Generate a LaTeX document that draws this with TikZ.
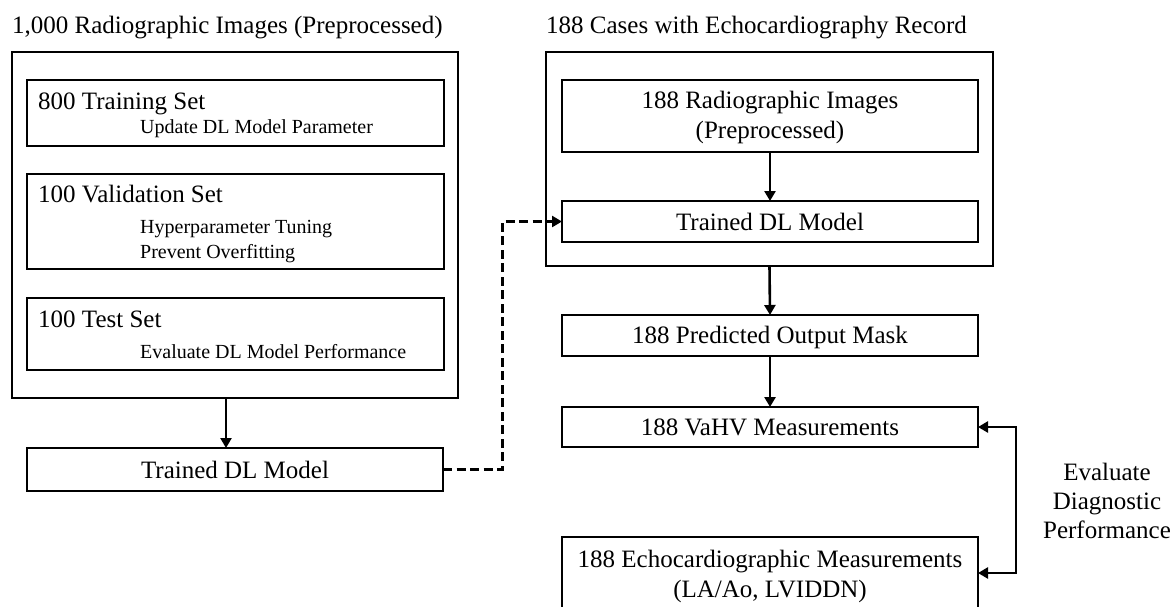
\documentclass[tikz,border=0pt]{standalone}
\usepackage{fontspec}
\setmainfont{Liberation Serif}
\usetikzlibrary{arrows.meta,calc}
\begin{document}
\begin{tikzpicture}[x=1pt,y=-1pt,
  box/.style={draw, line width=1.6pt, inner sep=0pt, outer sep=0pt, anchor=north west},
  big/.style={inner sep=0pt, font=\fontsize{25}{29}\selectfont},
  small/.style={inner sep=0pt, font=\fontsize{20}{24}\selectfont},
  arr/.style={line width=2.6pt, -{Triangle[length=10pt,width=11pt]}},
  dasharr/.style={line width=3pt, dash pattern=on 9pt off 4.5pt, -{Triangle[length=10pt,width=11pt]}},
  biarr/.style={line width=2.6pt, {Triangle[length=10pt,width=11pt]}-{Triangle[length=10pt,width=11pt]}},
]
\useasboundingbox (0,0) rectangle (1175,606);

% ---------- left column ----------
\node[big, anchor=base west] (titleL) at (12,33) {1,000 Radiographic Images (Preprocessed)};
\node[box, minimum width=446pt, minimum height=346pt] (outerL) at (12,52) {};

\node[box, minimum width=417pt, minimum height=66pt] (train) at (27,80) {};
\node[big, anchor=base west] (trainT) at (38,109) {800 Training Set};
\node[small, anchor=base west] (trainS) at (140,133) {Update DL Model Parameter};

\node[box, minimum width=417pt, minimum height=95pt] (valid) at (27,174) {};
\node[big, anchor=base west] (validT) at (38,202) {100 Validation Set};
\node[small, anchor=base west] (validS1) at (140,233) {Hyperparameter Tuning};
\node[small, anchor=base west] (validS2) at (140,258) {Prevent Overfitting};

\node[box, minimum width=417pt, minimum height=72pt] (test) at (27,298) {};
\node[big, anchor=base west] (testT) at (38,327) {100 Test Set};
\node[small, anchor=base west] (testS) at (140,358) {Evaluate DL Model Performance};

\node[box, minimum width=416pt, minimum height=43pt] (modelL) at (27,448) {};
\node[big, anchor=base] (modelLT) at (235,478) {Trained DL Model};

% ---------- right column ----------
\node[big, anchor=base west] (titleR) at (546,33) {188 Cases with Echocardiography Record};
\node[box, minimum width=447pt, minimum height=214pt] (outerR) at (546,52) {};

\node[box, minimum width=416pt, minimum height=72pt] (img) at (562,80) {};
\node[big, anchor=base] (imgT1) at (770,108) {188 Radiographic Images};
\node[big, anchor=base] (imgT2) at (770,138) {(Preprocessed)};

\node[box, minimum width=416pt, minimum height=41pt] (modelR) at (562,201) {};
\node[big, anchor=base] (modelRT) at (770,230) {Trained DL Model};

\node[box, minimum width=416pt, minimum height=41pt] (pred) at (562,315) {};
\node[big, anchor=base] (predT) at (770,343) {188 Predicted Output Mask};

\node[box, minimum width=416pt, minimum height=40pt] (vahv) at (562,407) {};
\node[big, anchor=base] (vahvT) at (770,435) {188 VaHV Measurements};

\node[box, minimum width=416pt, minimum height=80pt] (echo) at (562,537) {};
\node[big, anchor=base] (echoT1) at (770,567) {188 Echocardiographic Measurements};
\node[big, anchor=base] (echoT2) at (770,597) {(LA/Ao, LVIDDN)};

\node[big, anchor=base] (evalT1) at (1107,480) {Evaluate};
\node[big, anchor=base] (evalT2) at (1107,509) {Diagnostic};
\node[big, anchor=base] (evalT3) at (1107,538) {Performance};

% ---------- connectors ----------
\draw[arr] ([xshift=-9pt]outerL.south) -- ([xshift=-9pt]modelL.north);
\draw[dasharr] (modelL.east) -- ++(59,0) |- (modelR.west);
\draw[arr] (img.south) -- (modelR.north);
\draw[arr] (outerR.south) -- (pred.north);
\draw[arr] (pred.south) -- (vahv.north);
\coordinate (echoIn) at ($(echo.north east)+(0,36)$);
\draw[biarr] (vahv.east) -- ++(38,0) |- (echoIn);
\end{tikzpicture}
\end{document}
